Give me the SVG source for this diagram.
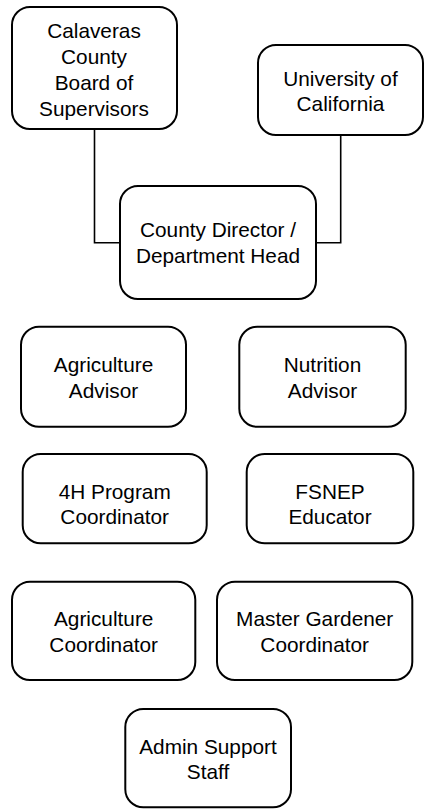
<svg xmlns="http://www.w3.org/2000/svg" width="429" height="809" viewBox="0 0 429 809">
<style>
.box{fill:#fff;stroke:#000;stroke-width:2}
.lbl{font-family:"Liberation Sans",Arial,sans-serif;font-size:20.8px;fill:#000;text-anchor:middle}
.con{fill:none;stroke:#000;stroke-width:1.6}
</style>
<rect width="429" height="809" fill="#fff"/>
<g id="connectors">
<polyline class="con" points="94.5,129 94.5,242.7 120,242.7"/>
<polyline class="con" points="340.7,135 340.7,242.7 316,242.7"/>
</g>
<g id="board">
<rect class="box" x="12" y="7" width="165" height="122" rx="18"/>
<text class="lbl" x="94" y="37.7">Calaveras</text>
<text class="lbl" x="94" y="64">County</text>
<text class="lbl" x="94" y="90">Board of</text>
<text class="lbl" x="94" y="115.7">Supervisors</text>
</g>
<g id="uc">
<rect class="box" x="258" y="45" width="165" height="90" rx="18"/>
<text class="lbl" x="340.5" y="86">University of</text>
<text class="lbl" x="340.5" y="111">California</text>
</g>
<g id="director">
<rect class="box" x="120" y="186" width="196" height="113" rx="18"/>
<text class="lbl" x="218" y="237.3">County Director /</text>
<text class="lbl" x="218" y="263.3">Department Head</text>
</g>
<g id="ag-advisor">
<rect class="box" x="21" y="326.7" width="165" height="100" rx="18"/>
<text class="lbl" x="103.5" y="372.3">Agriculture</text>
<text class="lbl" x="103.5" y="397.7">Advisor</text>
</g>
<g id="nutrition-advisor">
<rect class="box" x="239.3" y="326.7" width="166.4" height="100" rx="18"/>
<text class="lbl" x="322.5" y="372.3">Nutrition</text>
<text class="lbl" x="322.5" y="397.7">Advisor</text>
</g>
<g id="fourh">
<rect class="box" x="22.7" y="454" width="184" height="89.3" rx="18"/>
<text class="lbl" x="114.7" y="499">4H Program</text>
<text class="lbl" x="114.7" y="524.3">Coordinator</text>
</g>
<g id="fsnep">
<rect class="box" x="246.7" y="454" width="166.6" height="89.3" rx="18"/>
<text class="lbl" x="330" y="499">FSNEP</text>
<text class="lbl" x="330" y="524.3">Educator</text>
</g>
<g id="ag-coordinator">
<rect class="box" x="12" y="581.7" width="183.3" height="98.3" rx="18"/>
<text class="lbl" x="103.7" y="626">Agriculture</text>
<text class="lbl" x="103.7" y="651.7">Coordinator</text>
</g>
<g id="mg-coordinator">
<rect class="box" x="217" y="581.7" width="195.3" height="98.3" rx="18"/>
<text class="lbl" x="314.7" y="626">Master Gardener</text>
<text class="lbl" x="314.7" y="651.7">Coordinator</text>
</g>
<g id="admin">
<rect class="box" x="125.3" y="709" width="165.7" height="98.3" rx="18"/>
<text class="lbl" x="208" y="754">Admin Support</text>
<text class="lbl" x="208" y="779">Staff</text>
</g>
</svg>
